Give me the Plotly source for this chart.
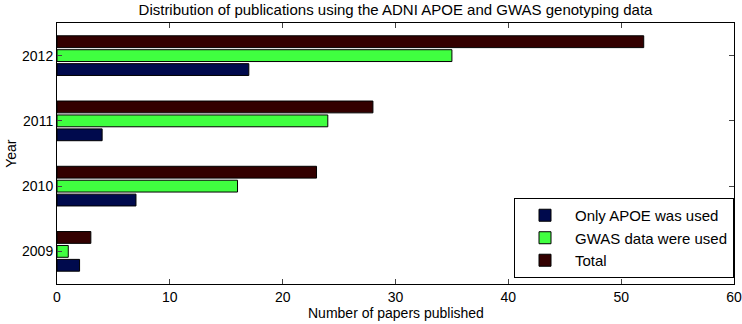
import plotly.graph_objects as go

years = ["2009", "2010", "2011", "2012"]
only_apoe = [2, 7, 4, 17]
gwas = [1, 16, 24, 35]
total = [3, 23, 28, 52]
x_ticks = [0, 10, 20, 30, 40, 50, 60]

series = [
    ("Only APOE was used", only_apoe, "#000a4d"),
    ("GWAS data were used", gwas, "#40ff40"),
    ("Total", total, "#330000"),
]

fig = go.Figure()
for name, vals, col in series:
    fig.add_trace(go.Bar(
        y=years, x=vals, name=name, orientation="h",
        marker=dict(color=col, line=dict(color="black", width=1)),
    ))

font = "Liberation Sans, Arial, sans-serif"
fig.update_layout(
    width=742, height=324,
    margin=dict(l=57, r=8, t=23, b=40, autoexpand=False),
    paper_bgcolor="white", plot_bgcolor="white",
    barmode="group", bargap=0.36, bargroupgap=0.15,
    font=dict(family=font, size=14, color="black"),
    title=dict(text="Distribution of publications using the ADNI APOE and GWAS genotyping data",
               x=0.5, xref="paper", xanchor="center", y=0.971, yanchor="middle",
               font=dict(size=15), pad=dict(t=0, b=0)),
    showlegend=True,
    legend=dict(x=1.0, y=0.023, xanchor="right", yanchor="bottom",
                bordercolor="black", borderwidth=1, bgcolor="white",
                font=dict(size=15), traceorder="normal", tracegroupgap=0,
                itemwidth=50),
    xaxis=dict(range=[0, 60], tickvals=x_ticks, ticks="inside", ticklen=5,
               showline=True, linecolor="black", linewidth=1, mirror="ticks",
               showgrid=False, zeroline=False, tickfont=dict(size=14),
               automargin=False, ticklabeloverflow="allow"),
    yaxis=dict(range=[-0.5, 3.5], type="category", ticks="inside", ticklen=5,
               showline=True, linecolor="black", linewidth=1, mirror="ticks",
               showgrid=False, zeroline=False, tickfont=dict(size=14),
               automargin=False),
    annotations=[
        dict(text="Number of papers published", xref="paper", yref="paper",
             x=0.5, y=-0.111, xanchor="center", yanchor="middle", showarrow=False,
             font=dict(size=14)),
        dict(text="Year", xref="paper", yref="paper", x=-0.069, y=0.5,
             xanchor="center", yanchor="middle", textangle=-90, showarrow=False,
             font=dict(size=14)),
    ],
)

fig.write_html("out.html", config={"displayModeBar": False},
               post_script="document.body.style.margin='0';")
